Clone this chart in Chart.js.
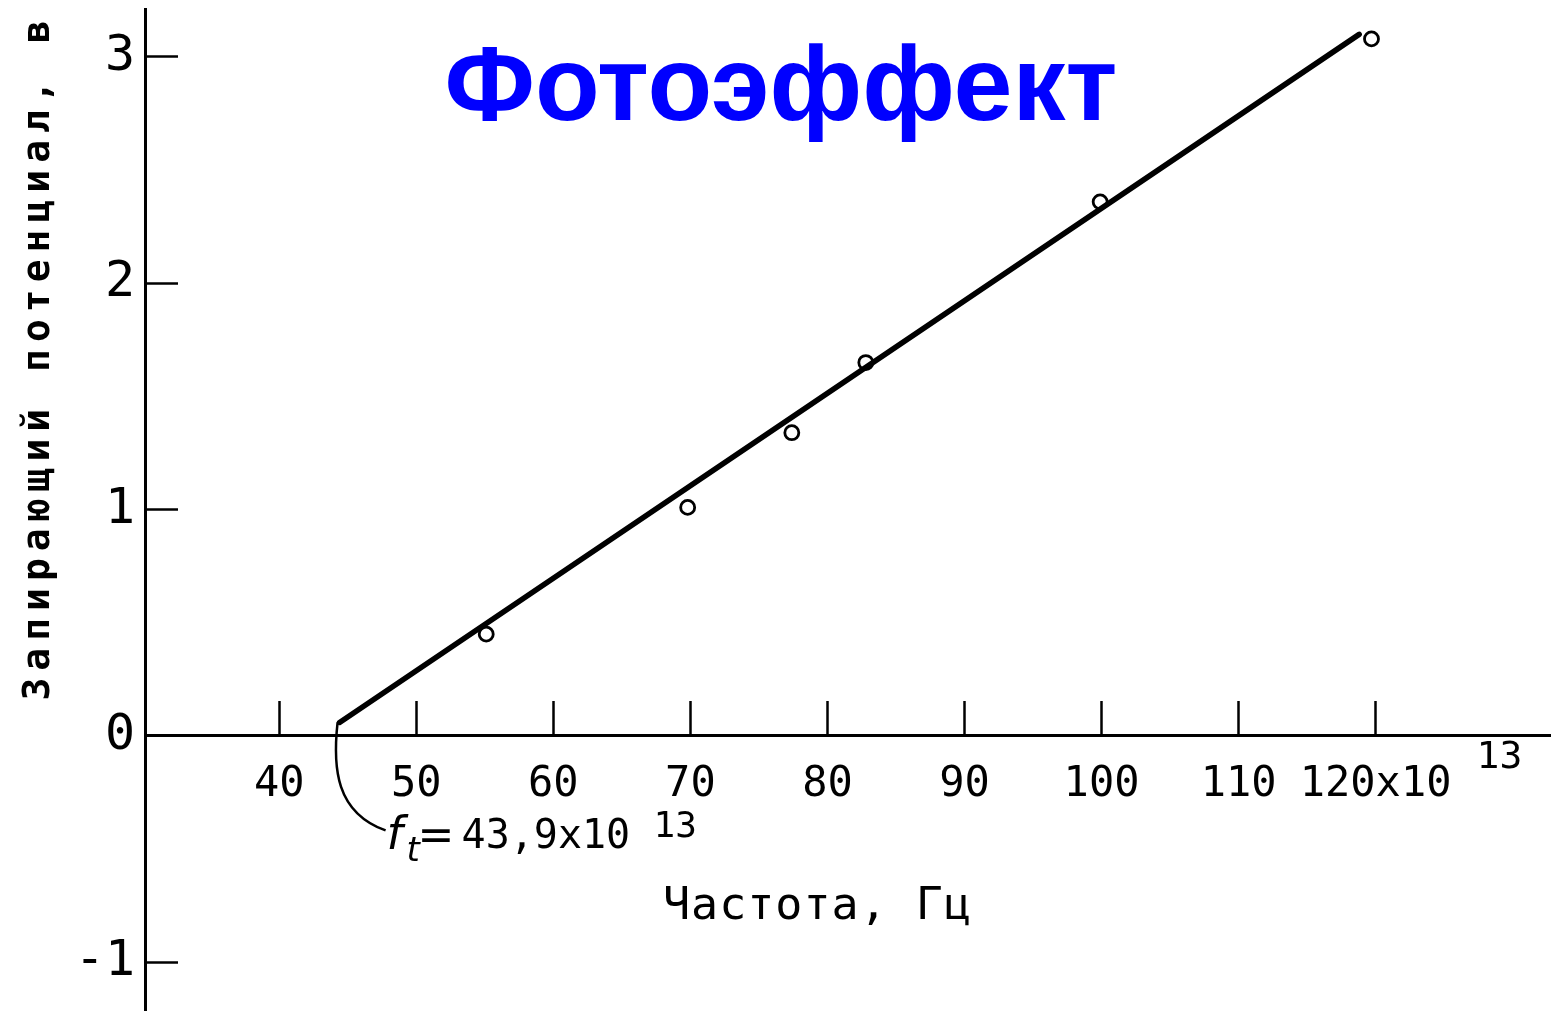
<!DOCTYPE html>
<html lang="ru">
<head>
<meta charset="UTF-8">
<title>Фотоэффект</title>
<script src="https://cdn.jsdelivr.net/npm/chart.js"></script>
<style>
	html, body { margin: 0; padding: 0; background: #fff; }
	canvas { display: block; }
</style>
</head>
<body>
<canvas id="mainChart" width="1551" height="1011"></canvas>
<script>
// measured points: frequency (x10^13 Hz) and stopping voltage (V)
const freq = [55.1, 69.8, 77.4, 82.8, 99.9, 119.7]
const voltage = [0.45, 1.01, 1.34, 1.65, 2.36, 3.08]

// fitted straight line, starting at the threshold frequency
const fitFreq = [44.4, 118.8]
const fitVoltage = [0.06, 3.1]

const xTicks = [40, 50, 60, 70, 80, 90, 100, 110, 120]
const xTickLabels = ["40", "50", "60", "70", "80", "90", "100", "110", "120x10"]
const yTicks = [-1, 0, 1, 2, 3]
const yTickLabels = ["-1", "0", "1", "2", "3"]

const title = "Фотоэффект"
const xTitle = "Частота, Гц"
const yTitle = "Запирающий потенциал, в"
const exponent = "13"
const thresholdText = "43,9x10"

const mono = "'DejaVu Sans Mono', monospace"

const textPlugin = {
	id: "texts",
	afterDraw(chart) {
		const {ctx, scales: {x, y}} = chart
		ctx.save()
		ctx.fillStyle = "#000"
		ctx.strokeStyle = "#000"

		// big blue heading
		ctx.fillStyle = "#0000ff"
		ctx.font = "bold 106px 'Liberation Sans', Arial, sans-serif"
		ctx.textAlign = "center"
		ctx.textBaseline = "alphabetic"
		ctx.fillText(title, 781, 120)
		ctx.fillStyle = "#000"

		// y axis title, rotated
		ctx.save()
		ctx.translate(39, 357)
		ctx.rotate(-Math.PI / 2)
		ctx.font = `bold 38px ${mono}`
		ctx.letterSpacing = "7px"
		ctx.textBaseline = "middle"
		ctx.fillText(yTitle, 0, 0)
		ctx.restore()

		// x axis title
		ctx.save()
		ctx.font = `45px ${mono}`
		ctx.letterSpacing = "1px"
		ctx.textAlign = "left"
		ctx.fillText(xTitle, 663, 919)
		ctx.restore()

		// exponent after the last x tick label
		const x120 = x.getPixelForValue(120)
		const axisY = y.getPixelForValue(0)
		ctx.font = `38px ${mono}`
		ctx.textAlign = "left"
		ctx.fillText(exponent, x120 + 101, axisY + 32)

		// threshold callout
		const sx = x.getPixelForValue(fitFreq[0])
		const sy = y.getPixelForValue(fitVoltage[0])
		ctx.lineWidth = 2.5
		ctx.beginPath()
		ctx.moveTo(sx - 2, sy)
		ctx.bezierCurveTo(sx - 7, sy + 45, sx - 4, sy + 90, sx + 46, sy + 108)
		ctx.stroke()

		ctx.textAlign = "left"
		ctx.font = "italic 46px 'DejaVu Sans', sans-serif"
		ctx.fillText("f", sx + 47, sy + 127)
		ctx.font = "italic 34px 'DejaVu Sans', sans-serif"
		ctx.fillText("t", sx + 67, sy + 139)
		ctx.font = "44px 'DejaVu Sans', sans-serif"
		ctx.fillText("=", sx + 78, sy + 128)
		ctx.font = `40px ${mono}`
		ctx.fillText(thresholdText, sx + 122, sy + 126)
		ctx.font = `36px ${mono}`
		ctx.fillText(exponent, sx + 314, sy + 115)
		ctx.restore()
	}
}

new Chart(document.getElementById("mainChart"), {
	type: "scatter",
	data: {
		datasets: [
			{
				data: fitFreq.map((f, i) => ({x: f, y: fitVoltage[i]})),
				showLine: true,
				borderColor: "#000",
				borderWidth: 5.5,
				borderCapStyle: "round",
				pointRadius: 0,
				order: 0
			},
			{
				data: freq.map((f, i) => ({x: f, y: voltage[i]})),
				pointRadius: 7,
				pointBorderWidth: 2.8,
				pointBackgroundColor: "#fff",
				pointBorderColor: "#000",
				order: 1
			}
		]
	},
	options: {
		responsive: false,
		animation: false,
		layout: {autoPadding: false, padding: {top: 9, left: 0, right: 0, bottom: 0}},
		plugins: {
			legend: {display: false},
			tooltip: {enabled: false}
		},
		scales: {
			x: {
				type: "linear",
				position: {y: 0},
				min: 30.2,
				max: 132.8,
				afterBuildTicks: s => { s.ticks = xTicks.map(v => ({value: v})) },
				afterFit: s => { s.paddingLeft = 0; s.paddingRight = 0 },
				ticks: {
					callback: v => xTickLabels[xTicks.indexOf(v)],
					font: {family: mono, size: 42},
					color: "#000",
					padding: 60,
					maxRotation: 0,
					autoSkip: false
				},
				grid: {drawOnChartArea: false, tickLength: -36, tickWidth: 2.5, tickColor: "#000"},
				border: {color: "#000", width: 3}
			},
			y: {
				type: "linear",
				position: "left",
				min: -1.215,
				max: 3.212,
				afterBuildTicks: s => { s.ticks = yTicks.map(v => ({value: v})) },
				afterFit: s => { s.width = 145; s.paddingTop = 0; s.paddingBottom = 0 },
				ticks: {
					callback: v => yTickLabels[yTicks.indexOf(v)],
					font: {family: mono, size: 50},
					color: "#000",
					padding: 43
				},
				grid: {drawOnChartArea: false, tickLength: -33, tickWidth: 2.5, tickColor: "#000"},
				border: {color: "#000", width: 3}
			}
		}
	},
	plugins: [textPlugin]
})
</script>
</body>
</html>
